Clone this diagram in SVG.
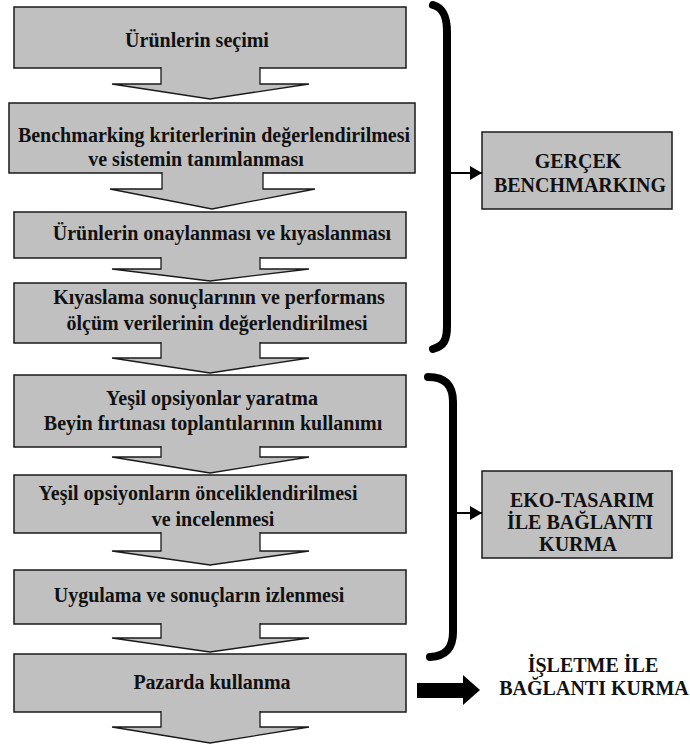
<svg xmlns="http://www.w3.org/2000/svg" width="690" height="749" viewBox="0 0 690 749">
<defs>
<style>
.box{fill:#c0c0c0;stroke:#1a1a1a;stroke-width:1.5}
.arr{fill:#c0c0c0;stroke:#1a1a1a;stroke-width:1.3;stroke-linejoin:miter}
.t{font-family:"Liberation Serif","Times New Roman",serif;font-weight:bold;font-size:20px;fill:#111;text-anchor:middle}
.brace{fill:none;stroke:#000;stroke-width:8;stroke-linecap:round}
.link{stroke:#000;stroke-width:2;fill:none}
</style>
<marker id="ah" markerWidth="12" markerHeight="14" refX="12" refY="7" orient="auto" markerUnits="userSpaceOnUse">
<path d="M0,0 L12,7 L0,14 Z" fill="#000"/>
</marker>
</defs>
<rect width="690" height="749" fill="#fff"/>

<g id="b1"><rect class="box" x="14" y="7" width="392" height="61"/><text class="t" x="197" y="47">Ürünlerin seçimi</text></g>
<g id="b2"><rect class="box" x="9" y="103" width="406" height="70"/><text class="t" x="214" y="142">Benchmarking kriterlerinin değerlendirilmesi</text><text class="t" x="196" y="166">ve sistemin tanımlanması</text></g>
<g id="b3"><rect class="box" x="14" y="212" width="392" height="46"/><text class="t" x="222" y="240">Ürünlerin onaylanması ve kıyaslanması</text></g>
<g id="b4"><rect class="box" x="14" y="283" width="392" height="60"/><text class="t" x="219" y="304">Kıyaslama sonuçlarının ve performans</text><text class="t" x="217" y="330">ölçüm verilerinin değerlendirilmesi</text></g>
<g id="b5"><rect class="box" x="14" y="375" width="392" height="72"/><text class="t" x="212" y="405">Yeşil opsiyonlar yaratma</text><text class="t" x="213" y="430">Beyin fırtınası toplantılarının kullanımı</text></g>
<g id="b6"><rect class="box" x="14" y="475" width="392" height="58"/><text class="t" x="198" y="500">Yeşil opsiyonların önceliklendirilmesi</text><text class="t" x="213" y="526">ve incelenmesi</text></g>
<g id="b7"><rect class="box" x="14" y="570" width="392" height="54"/><text class="t" x="199" y="602">Uygulama ve sonuçların izlenmesi</text></g>
<g id="b8"><rect class="box" x="14" y="654" width="392" height="58"/><text class="t" x="212" y="689">Pazarda kullanma</text></g>

<g id="r1"><rect class="box" x="482" y="132" width="190" height="77"/><text class="t" x="578" y="168">GERÇEK</text><text class="t" x="580" y="192">BENCHMARKING</text></g>
<g id="r2"><rect class="box" x="482" y="471" width="190" height="87"/><text class="t" x="582" y="507">EKO-TASARIM</text><text class="t" x="580" y="529">İLE BAĞLANTI</text><text class="t" x="578" y="551">KURMA</text></g>
<g id="r3"><text class="t" x="593" y="672">İŞLETME İLE</text><text class="t" x="594" y="695">BAĞLANTI KURMA</text></g>

<g id="connectors">
<path class="arr" d="M161,67 V84 H112 L210,99 L309,84 H260 V67"/>
<path class="arr" d="M162,172 V189 H110 L212,209 L315,189 H263 V172"/>
<path class="arr" d="M161,257 V269 H112 L210,281 L309,269 H260 V257"/>
<path class="arr" d="M161,342 V358 H112 L210,373 L309,358 H260 V342"/>
<path class="arr" d="M161,446 V457 H112 L210,473 L309,457 H260 V446"/>
<path class="arr" d="M161,532 V551 H112 L210,565 L309,551 H260 V532"/>
<path class="arr" d="M161,623 V638 H112 L210,652 L309,638 H260 V623"/>
<path class="arr" d="M161,711 V727 H112 L210,743 L309,727 H260 V711"/>

<path class="brace" d="M433,5 C444,8 447,18 447,32 V326 C447,340 444,346 433,349"/>
<path class="brace" d="M428,377 C446,377 453,386 453,402 V632 C453,648 446,656 430,657"/>

<line class="link" x1="451" y1="173" x2="482" y2="173" marker-end="url(#ah)"/>
<line class="link" x1="457" y1="513" x2="482" y2="513" marker-end="url(#ah)"/>

<path d="M417,683 H463 V675 L480,690 L463,705 V698 H417 Z" fill="#000"/>
</g>
</svg>
